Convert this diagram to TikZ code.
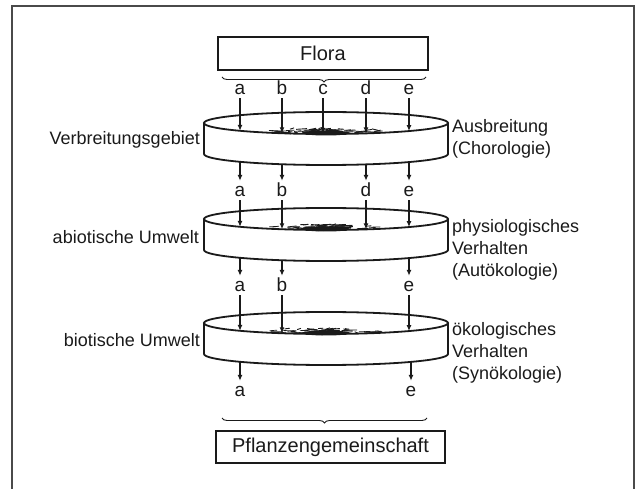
\documentclass[tikz,border=0pt]{standalone}
\usepackage{fontspec}
\setmainfont{Liberation Sans}
\usepackage{tikz}
\usetikzlibrary{arrows.meta,positioning,calc,decorations.pathreplacing}
\definecolor{cInk}{HTML}{1A1A1A}
\definecolor{cFrame}{HTML}{4A4A4A}
\tikzset{
  tbox/.style={draw=cInk,line width=1.2pt,minimum height=33pt,inner sep=0pt,font=\fontsize{20}{22}\selectfont,text=cInk},
  ltr/.style={font=\fontsize{19}{20}\selectfont,text height=13pt,text depth=0pt,inner xsep=1pt,inner ysep=3pt,text=cInk},
  lbl/.style={font=\fontsize{18}{22}\selectfont,align=left,inner sep=0pt,text=cInk},
  arr/.style={-{Latex[length=6pt,width=5pt]},line width=1.3pt,draw=cInk},
  rim/.style={line width=1.8pt,draw=cInk},
  brc/.style={decorate,decoration={brace,amplitude=5pt,mirror},line width=0.9pt,draw=cInk},
}

\begin{document}
\begin{tikzpicture}[x=1pt,y=1pt]
  \useasboundingbox (0,0) rectangle (638,-489);
  \draw[cFrame,line width=1.3pt] (12,-489) -- (12,-6) -- (634,-6) -- (634,-489);

  \node[tbox,minimum width=210pt] (flora) at (323,-53.5) {Flora};
  \node[tbox,minimum width=229pt,minimum height=32pt] (pflz) at (330.5,-447) {Pflanzengemeinschaft};
  \draw[brc] (222,-77) -- (426,-77);
  \draw[brc] (222,-418) -- (427,-418);

  % the three discs
  \pgfmathsetseed{12}
  \foreach \cy in {123,219,323}{
    \draw[rim] (326,-\cy) ellipse [x radius=122,y radius=11];
    \draw[rim] (204,-\cy) -- (204,-\cy-31) arc [start angle=180,end angle=360,x radius=122,y radius=11] -- (448,-\cy);
    \foreach \k in {1,...,45}{
      \pgfmathsetmacro\px{326+58*rand*abs(rand)}
      \pgfmathsetmacro\py{\cy+8+2.5*rand}
      \pgfmathsetmacro\pl{3+8*rnd}
      \draw[cInk,line width=0.9pt] (\px-\pl/2,-\py) -- (\px+\pl/2,-\py+1.5*rand);
    }
    \foreach \k in {1,...,30}{
      \pgfmathsetmacro\px{326+55*rand}
      \pgfmathsetmacro\py{\cy+8.5+1.5*rand}
      \pgfmathsetmacro\pl{4+8*rnd}
      \draw[cInk,line width=0.7pt] (\px-\pl/2,-\py) -- (\px+\pl/2,-\py+rand);
    }
    \fill[cInk] (326,-\cy-10) ellipse [x radius=24,y radius=2.5];
  }

  \node[lbl,anchor=east] (lv1) at (200,-140) {Verbreitungsgebiet};
  \node[lbl,anchor=east] (lv2) at (199,-237) {abiotische Umwelt};
  \node[lbl,anchor=east] (lv3) at (200,-340) {biotische Umwelt};
  \node[lbl,anchor=west] (rv1) at (452,-139) {Ausbreitung\\(Chorologie)};
  \node[lbl,anchor=west] (rv2) at (452,-250) {physiologisches\\Verhalten\\(Autökologie)};
  \node[lbl,anchor=west] (rv3) at (452,-353) {ökologisches\\Verhalten\\(Synökologie)};

  % letters and arrows
  \foreach \l/\x in {a/240,b/282,c/323,d/366,e/409}{
    \pgfmathsetmacro\dy{11*sqrt(1-((\x-326)/122)^2)}
    \node[ltr,anchor=base] (\l0) at (\x,-95) {\l};
    \coordinate (\l0t) at (\x,-123-\dy);
    \draw[arr] (\l0) -- (\l0t);
  }
  \foreach \l/\x in {a/240,b/282,d/366,e/409}{
    \pgfmathsetmacro\dy{11*sqrt(1-((\x-326)/122)^2)}
    \coordinate (\l1s) at (\x,-154-\dy);
    \node[ltr,anchor=base] (\l1) at (\x,-197) {\l};
    \coordinate (\l1t) at (\x,-219-\dy);
    \draw[arr] (\l1s) -- (\l1);
    \draw[arr] (\l1) -- (\l1t);
  }
  \foreach \l/\x in {a/240,b/282,e/409}{
    \pgfmathsetmacro\dy{11*sqrt(1-((\x-326)/122)^2)}
    \coordinate (\l2s) at (\x,-250-\dy);
    \node[ltr,anchor=base] (\l2) at (\x,-292) {\l};
    \coordinate (\l2t) at (\x,-323-\dy);
    \draw[arr] (\l2s) -- (\l2);
    \draw[arr] (\l2) -- (\l2t);
  }
  \foreach \l/\x in {a/240,e/411}{
    \pgfmathsetmacro\dy{11*sqrt(1-((\x-326)/122)^2)}
    \coordinate (\l3s) at (\x,-354-\dy);
    \node[ltr,anchor=base] (\l3) at (\x,-397) {\l};
    \draw[arr] (\l3s) -- (\l3);
  }
\end{tikzpicture}
\end{document}
